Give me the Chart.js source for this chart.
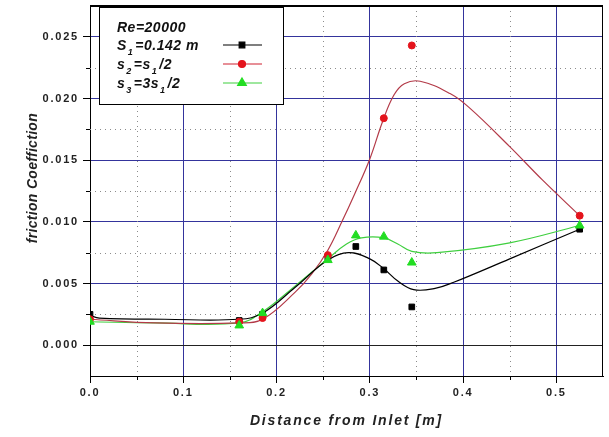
<!DOCTYPE html>
<html>
<head>
<meta charset="utf-8">
<script src="https://cdn.jsdelivr.net/npm/chart.js@4.4.0/dist/chart.umd.min.js"></script>
<style>
  html, body { margin: 0; padding: 0; background: #fff; }
</style>
</head>
<body>
<canvas id="myChart" width="609" height="437"></canvas>
<script>
//Measured points (markers)
const xS1 = [0, 0.16, 0.185, 0.255, 0.285, 0.315, 0.345, 0.525];
const yS1 = [0.0025, 0.0020, 0.0025, 0.0071, 0.0080, 0.0061, 0.0031, 0.0094];

const xS2 = [0, 0.16, 0.185, 0.255, 0.315, 0.345, 0.525];
const yS2 = [0.0021, 0.0019, 0.0022, 0.0073, 0.0184, 0.0243, 0.0105];

const xS3 = [0, 0.16, 0.185, 0.255, 0.285, 0.315, 0.345, 0.525];
const yS3 = [0.0019, 0.0016, 0.0026, 0.0069, 0.0089, 0.0088, 0.0067, 0.0097];

//Smoothed curves
const fitX1 = [0, 0.01, 0.08, 0.16, 0.185, 0.22, 0.255, 0.277, 0.30, 0.315, 0.33, 0.347, 0.37, 0.39, 0.45, 0.525];
const fitY1 = [0.0024, 0.0022, 0.0021, 0.0021, 0.0026, 0.0047, 0.0069, 0.0075, 0.0070, 0.0062, 0.0052, 0.0045, 0.0046, 0.0051, 0.0070, 0.0094];

const fitX2 = [0, 0.07, 0.16, 0.185, 0.22, 0.238, 0.255, 0.27, 0.284, 0.30, 0.314, 0.326, 0.337, 0.354, 0.386, 0.406, 0.45, 0.485, 0.525];
const fitY2 = [0.0021, 0.0018, 0.0018, 0.0021, 0.0043, 0.0058, 0.0077, 0.0100, 0.0123, 0.0151, 0.0182, 0.0203, 0.0212, 0.0214, 0.0204, 0.0193, 0.0161, 0.0134, 0.0105];

const fitX3 = [0, 0.07, 0.16, 0.185, 0.22, 0.255, 0.275, 0.291, 0.315, 0.33, 0.345, 0.372, 0.45, 0.525];
const fitY3 = [0.0019, 0.0018, 0.0018, 0.0027, 0.0048, 0.0070, 0.0082, 0.0087, 0.0087, 0.0082, 0.0076, 0.0075, 0.0083, 0.0097];

//Legend / axis text ("_" = next char is a subscript)
const legendTitle = 'Re=20000';
const seriesLabels = ['S_1=0.142 m', 's_2=s_1/2', 's_3=3s_1/2'];
const yTitle = 'friction Coeffiction';
const xTitle = 'Distance from Inlet [m]';

const FONT = "'Liberation Sans', Arial, sans-serif";
const BLUE = '#34349c';

const toPts = (xs, ys) => xs.map((x, i) => ({x: x, y: ys[i]}));

const isMajorX = v => Math.round(v * 100) % 10 === 0;
const isMajorY = v => Math.round(v * 10000) % 50 === 0;
const inY = v => v > -0.001 && v < 0.027;

//draws text with single-char subscripts
function drawRich(ctx, text, x, y, size) {
  let cx = x;
  for (let i = 0; i < text.length; i++) {
    let ch = text[i];
    if (ch === '_' && i + 1 < text.length) {
      ch = text[++i];
      ctx.font = 'italic bold ' + Math.round(size * 0.62) + 'px ' + FONT;
      ctx.fillText(ch, cx + 1, y + 5);
      cx += ctx.measureText(ch).width + 3;
    } else {
      ctx.font = 'italic bold ' + size + 'px ' + FONT;
      ctx.fillText(ch, cx, y);
      cx += ctx.measureText(ch).width;
    }
  }
}

const spacing = {
  id: 'spacing',
  beforeLayout(chart) { chart.ctx.letterSpacing = '1.8px'; },
  beforeDraw(chart) { chart.ctx.letterSpacing = '1.8px'; }
};

//dotted minor grid + short minor ticks
const minorGrid = {
  id: 'minorGrid',
  beforeDatasetsDraw(chart) {
    const {ctx, chartArea: a, scales: {x, y}} = chart;
    ctx.save();
    ctx.lineWidth = 1;
    ctx.strokeStyle = '#8c8c8c';
    ctx.setLineDash([1, 4]);
    x.ticks.forEach(t => {
      if (isMajorX(t.value) || t.value >= x.max) return;
      const px = Math.round(x.getPixelForValue(t.value)) + 0.5;
      ctx.beginPath(); ctx.moveTo(px, a.top); ctx.lineTo(px, a.bottom); ctx.stroke();
    });
    y.ticks.forEach(t => {
      if (isMajorY(t.value) || t.value <= y.min || t.value >= y.max) return;
      const py = Math.round(y.getPixelForValue(t.value)) + 0.5;
      ctx.beginPath(); ctx.moveTo(a.left, py); ctx.lineTo(a.right, py); ctx.stroke();
    });
    ctx.setLineDash([]);
    ctx.strokeStyle = '#000';
    x.ticks.forEach(t => {
      if (isMajorX(t.value) || t.value >= x.max) return;
      const px = Math.round(x.getPixelForValue(t.value)) + 0.5;
      ctx.beginPath(); ctx.moveTo(px, a.bottom); ctx.lineTo(px, a.bottom + 4); ctx.stroke();
    });
    y.ticks.forEach(t => {
      if (isMajorY(t.value) || t.value <= y.min || t.value >= y.max) return;
      const py = Math.round(y.getPixelForValue(t.value)) + 0.5;
      ctx.beginPath(); ctx.moveTo(a.left - 4, py); ctx.lineTo(a.left, py); ctx.stroke();
    });
    ctx.restore();
  }
};

//frame, y title + legend box
const frameLegend = {
  id: 'frameLegend',
  afterDraw(chart) {
    const {ctx, chartArea: a} = chart;
    ctx.save();
    ctx.strokeStyle = '#000';
    ctx.lineWidth = 2;
    ctx.beginPath(); ctx.moveTo(a.left, a.top); ctx.lineTo(a.right, a.top); ctx.stroke();
    ctx.lineWidth = 1;
    ctx.beginPath(); ctx.moveTo(a.right - 0.5, a.top); ctx.lineTo(a.right - 0.5, a.bottom); ctx.stroke();

    //y axis title, sits a bit above the middle like the original
    ctx.save();
    ctx.letterSpacing = '0.3px';
    ctx.translate(33, a.top + (a.bottom - a.top) * 0.465);
    ctx.rotate(-Math.PI / 2);
    ctx.font = 'italic bold 14px ' + FONT;
    ctx.fillStyle = '#222';
    ctx.textAlign = 'center';
    ctx.textBaseline = 'middle';
    ctx.fillText(yTitle, 0, 0);
    ctx.restore();

    const bx = a.left + 9, by = a.top + 1, bw = 184, bh = 97;
    ctx.fillStyle = '#fff';
    ctx.fillRect(bx, by, bw, bh);
    ctx.strokeRect(bx + 0.5, by + 0.5, bw, bh);

    ctx.fillStyle = '#111';
    ctx.textBaseline = 'alphabetic';
    ctx.letterSpacing = '0.5px';
    drawRich(ctx, legendTitle, bx + 18, by + 25, 14);
    const sets = chart.data.datasets.filter(d => !d.showLine);
    sets.forEach((d, i) => {
      const cy = by + 38 + i * 19;
      drawRich(ctx, seriesLabels[i], bx + 18, cy + 5, 14);
      ctx.strokeStyle = d.legendLine;
      ctx.lineWidth = 1.2;
      ctx.beginPath(); ctx.moveTo(bx + 124, cy); ctx.lineTo(bx + 163, cy); ctx.stroke();
      ctx.fillStyle = d.backgroundColor;
      ctx.strokeStyle = d.borderColor;
      Chart.helpers.drawPoint(ctx, {pointStyle: d.pointStyle, radius: d.pointRadius, borderWidth: 1, rotation: 0}, bx + 143, cy);
      ctx.fillStyle = '#111';
    });
    ctx.restore();
  }
};

const curve = (xs, ys, color) => ({
  data: toPts(xs, ys),
  showLine: true,
  borderColor: color,
  borderWidth: 1.2,
  pointRadius: 0,
  tension: 0.4,
  order: 10
});

const marks = (xs, ys, label, color, line, style, r, ord) => ({
  label: label,
  data: toPts(xs, ys),
  showLine: false,
  pointStyle: style,
  pointRadius: r,
  pointBackgroundColor: color,
  pointBorderColor: color,
  backgroundColor: color,
  borderColor: color,
  legendLine: line,
  order: ord
});

const ctx = document.getElementById('myChart').getContext('2d');
const myChart = new Chart(ctx, {
  type: 'scatter',
  data: {
    datasets: [
      curve(fitX1, fitY1, '#000000'),
      curve(fitX2, fitY2, '#b33a48'),
      curve(fitX3, fitY3, '#3fcf3f'),
      marks(xS1, yS1, seriesLabels[0], '#000000', '#000000', 'rect', 4, 3),
      marks(xS2, yS2, seriesLabels[1], '#e4141c', '#d02030', 'circle', 3.5, 2),
      marks(xS3, yS3, seriesLabels[2], '#22dd22', '#3fcf3f', 'triangle', 5, 1)
    ]
  },
  options: {
    responsive: false,
    animation: false,
    layout: { padding: { top: 6, right: 1, left: 0, bottom: 0 } },
    plugins: { legend: { display: false }, tooltip: { enabled: false } },
    scales: {
      x: {
        type: 'linear',
        min: 0,
        max: 0.55,
        afterFit: s => { s.height = 61; s.paddingLeft = 0; s.paddingRight = 0; },
        ticks: {
          stepSize: 0.05,
          autoSkip: false,
          maxRotation: 0,
          padding: 3,
          color: '#222',
          font: { family: FONT, size: 11, weight: 'bold' },
          callback: v => isMajorX(v) ? v.toFixed(1) : ''
        },
        grid: {
          color: c => (c.tick && isMajorX(c.tick.value) && c.tick.value > 0) ? BLUE : 'rgba(0,0,0,0)',
          tickColor: c => (c.tick && isMajorX(c.tick.value)) ? '#000' : 'rgba(0,0,0,0)',
          tickLength: 7,
          lineWidth: 1
        },
        border: { color: '#000', width: 1 },
        title: {
          display: true,
          text: xTitle,
          color: '#222',
          font: { family: FONT, size: 14, weight: 'bold', style: 'italic' },
          padding: { top: 0, bottom: 7 }
        }
      },
      y: {
        min: -0.0025,
        max: 0.0275,
        afterFit: s => { s.width = 90; s.paddingTop = 0; s.paddingBottom = 0; },
        ticks: {
          stepSize: 0.0025,
          autoSkip: false,
          padding: 4,
          color: '#222',
          font: { family: FONT, size: 11, weight: 'bold' },
          callback: v => (isMajorY(v) && inY(v)) ? v.toFixed(3) : ''
        },
        grid: {
          color: c => {
            if (!c.tick) return 'rgba(0,0,0,0)';
            const v = c.tick.value;
            if (Math.abs(v) < 1e-9) return '#222';
            return (isMajorY(v) && inY(v)) ? BLUE : 'rgba(0,0,0,0)';
          },
          tickColor: c => (c.tick && isMajorY(c.tick.value) && inY(c.tick.value)) ? '#000' : 'rgba(0,0,0,0)',
          tickLength: 7,
          lineWidth: 1
        },
        border: { color: '#000', width: 1 },
        title: { display: false }
      }
    }
  },
  plugins: [spacing, minorGrid, frameLegend]
});
</script>
</body>
</html>
